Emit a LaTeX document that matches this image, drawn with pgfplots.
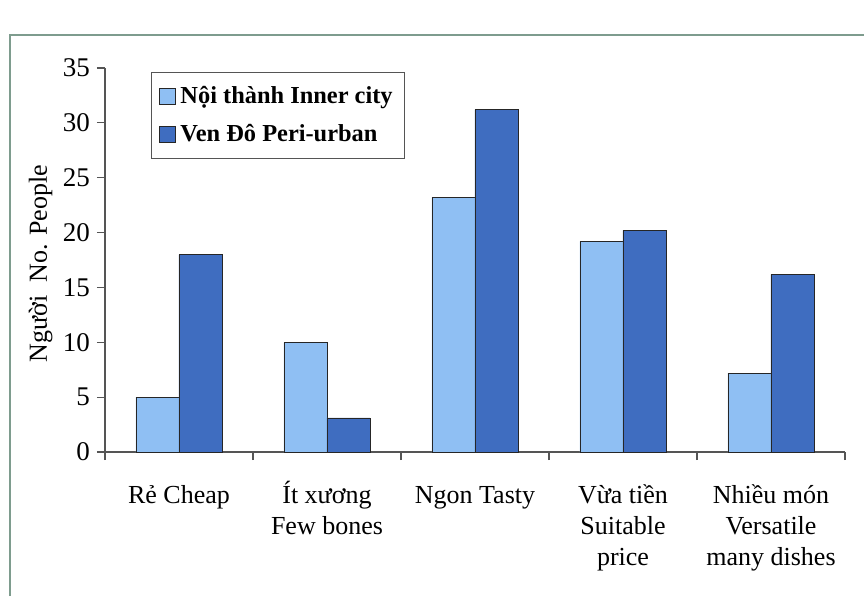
\documentclass[border=0pt]{standalone}
\usepackage{fontspec}
\setmainfont{Liberation Serif}
\usepackage{pgfplots}
\pgfplotsset{compat=1.18}
\definecolor{inner}{HTML}{8FBFF3}
\definecolor{peri}{HTML}{3F6DC0}
\definecolor{framec}{HTML}{7E9C8E}
\definecolor{axc}{HTML}{555555}
\newcommand{\st}{\rule{0pt}{12.5pt}}
\begin{document}
\begin{tikzpicture}
\path[use as bounding box] (0,0) rectangle (432pt,298pt);
\draw[framec, line width=1.3pt] (5pt,0pt) -- (5pt,280.5pt) -- (432pt,280.5pt);
\begin{axis}[
  at={(52.5pt,72pt)}, anchor=south west,
  scale only axis, width=370pt, height=192pt,
  xmin=-0.5, xmax=4.5, ymin=0, ymax=35,
  ybar=0pt, bar width=21.5pt,
  axis x line=bottom, axis y line=left,
  axis line style={-, draw=axc, line width=0.6pt},
  tick align=outside, major tick length=4pt,
  every tick/.style={draw=axc, line width=0.6pt},
  ytick={0,5,...,35},
  xtick={0,...,4},
  major x tick style={draw=none},
  minor xtick={-0.5,0.5,...,4.5},
  minor tick length=4pt,
  xticklabels={\st Rẻ Cheap, {\st Ít xương\\Few bones}, \st Ngon Tasty, {\st Vừa tiền\\Suitable\\price}, {\st Nhiều món\\Versatile\\many dishes}},
  x tick label style={align=center, font=\fontsize{13}{15.5}\selectfont, yshift=-5.5pt},
  y tick label style={font=\fontsize{13.5}{15}\selectfont},
  /pgf/number format/assume math mode=true,
  ylabel={Người\ \ No. People},
  ylabel style={at={(axis description cs:-0.087,0.49)}, anchor=center, font=\fontsize{13}{15}\selectfont},
  legend style={at={(0.062,0.99)}, anchor=north west, draw=axc, line width=0.6pt,
    font=\bfseries\fontsize{12.2}{15}\selectfont, row sep=5pt, inner xsep=4pt, inner ysep=5pt},
  legend cell align=left,
  legend image code/.code={\draw[#1, line width=0.5pt] (0pt,-4pt) rectangle (8pt,4pt);},
]
\addplot[fill=inner, draw=black!85] coordinates {(0,5) (1,10) (2,23.2) (3,19.2) (4,7.2)};
\addplot[fill=peri, draw=black!85] coordinates {(0,18) (1,3.1) (2,31.2) (3,20.2) (4,16.2)};
\legend{Nội thành Inner city, Ven Đô Peri-urban}
\end{axis}
\end{tikzpicture}
\end{document}
